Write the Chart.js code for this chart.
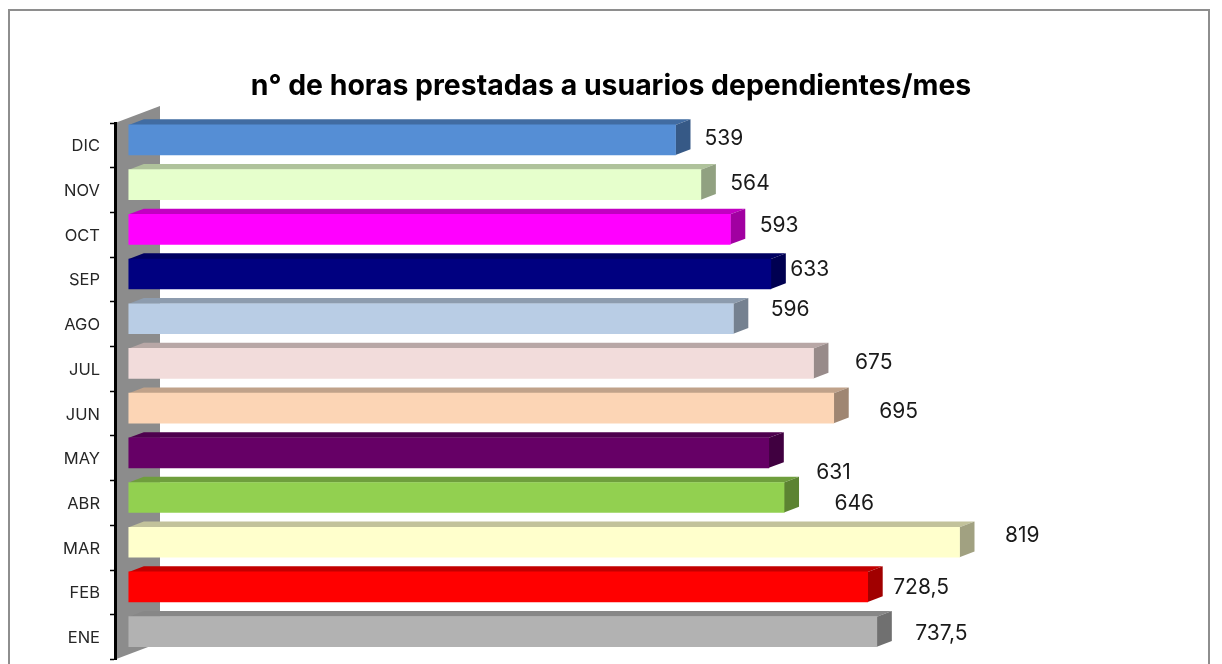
<!DOCTYPE html>
<html>
<head>
<meta charset="utf-8">
<title>Horas prestadas</title>
<script src="https://cdn.jsdelivr.net/npm/chart.js@4"></script>
<style>
  html, body { margin: 0; padding: 0; background: #fff; overflow: hidden; }
  #frame { position: absolute; left: 8px; top: 9px; width: 1198px; height: 720px; border: 2px solid #8e8e8e; }
  #myChart { position: absolute; left: 0; top: 0; }
</style>
</head>
<body>
<div id="frame"></div>
<canvas id="myChart" width="1222" height="664"></canvas>
<script>
const categories = ["ENE", "FEB", "MAR", "ABR", "MAY", "JUN", "JUL", "AGO", "SEP", "OCT", "NOV", "DIC"];
const hours = [737.5, 728.5, 819, 646, 631, 695, 675, 596, 633, 593, 564, 539];
const frontColors = ["#b2b2b2", "#ff0000", "#ffffcc", "#92d050", "#660066", "#fcd5b5", "#f2dcdb", "#b9cde5", "#000080", "#ff00ff", "#e6ffcc", "#558ed5"];
const titleText = "n° de horas prestadas a usuarios dependientes/mes";

// the value labels sit by hand in the original, so each one gets its own nudge
const labelNudgeX = [38.5, 25.5, 45.5, 50.5, 47.5, 45.5, 41.5, 37.5, 19.5, 29.5, 29.5, 29];
const labelNudgeY = [2, 1, -7, 6, 20, 4, -1, -9, -4, -4, -1, -1];

const FONT = "Inter, sans-serif";
const DEPTH_X = 15;
const DEPTH_Y = 5.7;
const BAR_SHIFT = -5.5;

const shade = (hex, k) => {
  const n = parseInt(hex.slice(1), 16);
  const r = Math.round((n >> 16) * k);
  const g = Math.round(((n >> 8) & 255) * k);
  const b = Math.round((n & 255) * k);
  return `rgb(${r},${g},${b})`;
};

const poly = (ctx, color, pts) => {
  ctx.fillStyle = color;
  ctx.beginPath();
  pts.forEach((p, i) => (i ? ctx.lineTo(p[0], p[1]) : ctx.moveTo(p[0], p[1])));
  ctx.closePath();
  ctx.fill();
};

// fake 3D: side wall plus the top and right faces of each bar
const depthPlugin = {
  id: "depth",
  beforeDraw(chart) {
    const { ctx, chartArea: a } = chart;
    const wall = 45;
    poly(ctx, "#8c8c8c", [
      [a.left, a.top],
      [a.left + wall, a.top - 17],
      [a.left + wall, a.bottom - 17],
      [a.left, a.bottom],
    ]);
  },
  beforeDatasetsDraw(chart) {
    const { ctx } = chart;
    ctx.save();
    ctx.translate(0, BAR_SHIFT);
    chart.getDatasetMeta(0).data.forEach((bar, i) => {
      const p = bar.getProps(["x", "y", "base", "height"], true);
      const top = p.y - p.height / 2;
      const bottom = p.y + p.height / 2;
      poly(ctx, shade(frontColors[i], 0.76), [
        [p.base, top],
        [p.base + DEPTH_X, top - DEPTH_Y],
        [p.x + DEPTH_X, top - DEPTH_Y],
        [p.x, top],
      ]);
      poly(ctx, shade(frontColors[i], 0.63), [
        [p.x, top],
        [p.x + DEPTH_X, top - DEPTH_Y],
        [p.x + DEPTH_X, bottom - DEPTH_Y],
        [p.x, bottom],
      ]);
    });
  },
  afterDatasetsDraw(chart) {
    const { ctx } = chart;
    ctx.restore();
    ctx.fillStyle = "#1a1a1a";
    ctx.font = "21px " + FONT;
    ctx.textAlign = "left";
    ctx.textBaseline = "middle";
    chart.getDatasetMeta(0).data.forEach((bar, i) => {
      const text = String(hours[i]).replace(".", ",");
      ctx.fillText(text, bar.x + labelNudgeX[i], bar.y + BAR_SHIFT + labelNudgeY[i]);
    });
  },
};

new Chart(document.getElementById("myChart").getContext("2d"), {
  type: "bar",
  data: {
    labels: categories,
    datasets: [{
      data: hours,
      backgroundColor: frontColors,
      borderWidth: 0,
      barThickness: 30,
    }],
  },
  options: {
    indexAxis: "y",
    responsive: false,
    animation: false,
    layout: { padding: { top: 0, left: 0, right: 0, bottom: 4.5 } },
    plugins: {
      legend: { display: false },
      tooltip: { enabled: false },
      title: {
        display: true,
        text: titleText,
        color: "#000",
        font: { family: FONT, size: 28.4, weight: "bold" },
        padding: { top: 69, bottom: 20 },
      },
    },
    scales: {
      x: { display: false, min: -13.6, max: 1077.8 },
      y: {
        reverse: true,
        afterFit(scale) {
          scale.width = 115;
          scale.paddingTop = 0;
          scale.paddingBottom = 0;
        },
        border: { color: "#000", width: 3 },
        grid: { drawOnChartArea: false, tickLength: 5, tickWidth: 1.5, tickColor: "#000", offset: true },
        ticks: { color: "#262626", font: { family: FONT, size: 16.5 }, padding: 10, labelOffset: 1 },
      },
    },
  },
  plugins: [depthPlugin],
});
</script>
</body>
</html>
